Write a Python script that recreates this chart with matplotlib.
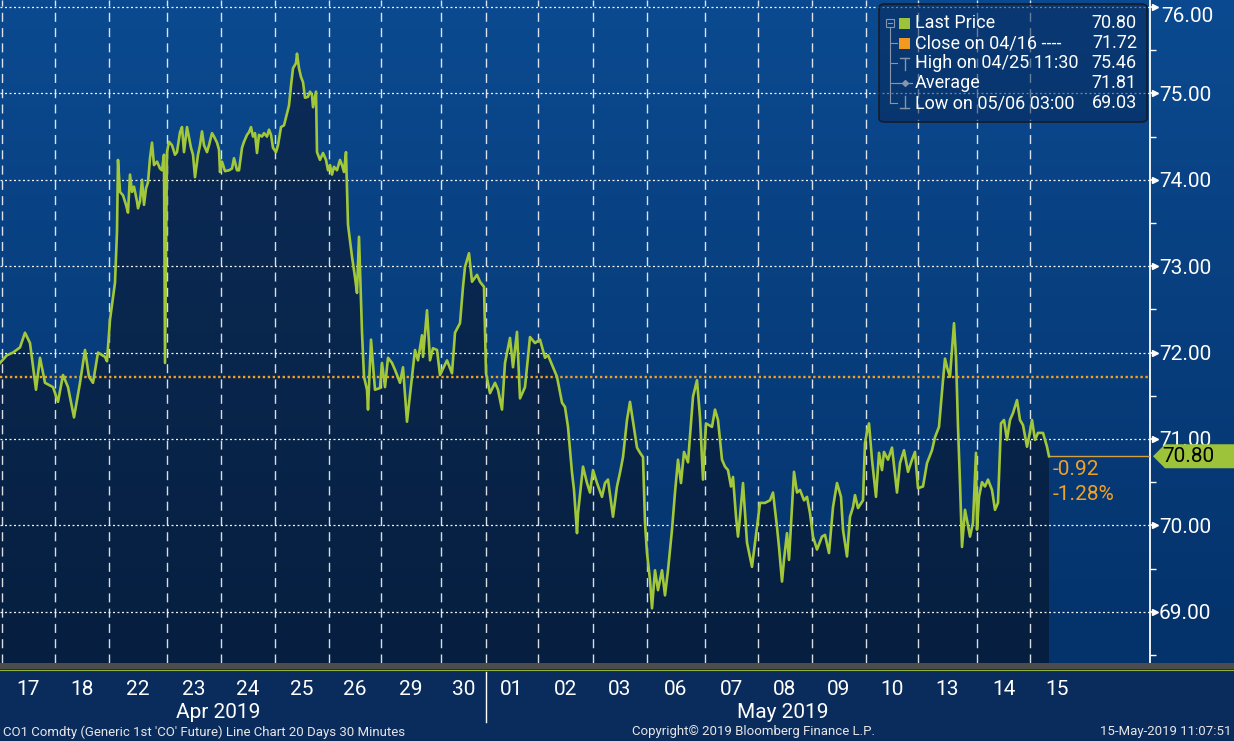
import numpy as np
import matplotlib
matplotlib.use('Agg')
import matplotlib.pyplot as plt
from matplotlib.patches import Polygon, FancyBboxPatch, Rectangle
from matplotlib.lines import Line2D
import matplotlib.transforms as mtrans
from matplotlib.colors import LinearSegmentedColormap

plt.rcParams['font.family'] = ['Roboto', 'DejaVu Sans']

# ---------------- data ----------------
# t: position on the (bar-spaced) time axis, price: CO1 last price
t_a = [0, 7, 13, 20, 25, 30, 36, 40, 45, 53, 58, 63, 68, 74, 80, 85, 89, 93, 98, 105, 107, 110, 115]
p_a = [71.88, 71.97, 72.00, 72.06, 72.23, 72.11, 71.57, 71.94, 71.65, 71.60, 71.43, 71.74, 71.60, 71.25,
       71.65, 72.03, 71.72, 71.65, 72.00, 71.95, 71.90, 72.38, 72.81]

t_b = [117, 118, 120, 123, 126, 128, 130, 132, 134, 137, 138, 140, 142, 144, 146, 148, 150, 152, 154, 157,
       160, 162, 164, 165, 167, 169, 172, 175, 177, 180, 182, 184, 187, 188, 191, 193, 195, 198, 200, 202,
       204, 207, 209, 212, 214, 217, 219, 220, 222, 225, 229, 232, 234, 237, 239, 242, 244, 247, 249, 251,
       253, 255, 257, 259, 262, 264, 267, 269, 271, 273, 276, 278, 281, 284, 287, 289, 291, 293, 296, 297,
       299, 301, 303, 305, 308, 310, 312, 313, 316, 317, 320, 323, 326, 328, 330, 332, 334, 337, 340, 342,
       344, 346, 348]
p_b = [73.40, 74.23, 73.86, 73.82, 73.71, 73.62, 74.06, 73.86, 73.92, 73.75, 73.67, 73.75, 74.00, 73.71,
       73.90, 73.97, 74.25, 74.43, 74.17, 74.21, 74.13, 74.11, 74.29, 71.88, 74.32, 74.44, 74.40, 74.29,
       74.32, 74.55, 74.61, 74.32, 74.61, 74.55, 74.37, 74.29, 74.03, 74.29, 74.40, 74.56, 74.40, 74.32,
       74.40, 74.54, 74.50, 74.43, 74.35, 74.09, 74.21, 74.10, 74.11, 74.13, 74.25, 74.11, 74.11, 74.37,
       74.44, 74.52, 74.55, 74.61, 74.50, 74.54, 74.31, 74.52, 74.50, 74.54, 74.50, 74.58, 74.52, 74.37,
       74.32, 74.40, 74.61, 74.63, 74.77, 74.86, 75.09, 75.29, 75.35, 75.46, 75.29, 75.19, 75.13, 74.95,
       74.96, 75.02, 74.98, 74.84, 75.02, 74.32, 74.23, 74.31, 74.23, 74.11, 74.17, 74.06, 74.15, 74.11,
       74.23, 74.17, 74.09, 74.32, 73.48]

t_c = [352, 355, 357, 359, 362, 364, 367, 368, 371, 375, 380, 382, 385, 388,
       392, 395, 400, 403, 407, 412, 415, 418, 422, 423, 427, 430, 433, 437, 440, 447, 452, 455, 460, 463,
       465, 469, 472, 477, 480, 484, 486, 490, 495, 498, 502, 505, 510, 513, 517, 520, 525, 530, 535, 540,
       545, 548, 553, 557, 562, 565, 568, 572, 574, 577, 578, 583, 587, 590, 593, 597, 602, 605, 608, 613,
       617, 620, 623, 627, 630, 633, 637, 640, 643, 645, 647, 650, 652, 655, 658, 662, 665, 668, 672, 675,
       678, 681, 684, 688, 693, 697, 700, 703, 706, 712, 715, 718, 722, 725, 728, 731, 733, 736, 738, 740,
       743, 747, 752, 755, 760, 765, 770, 773, 777, 779, 782, 784, 787, 789, 794, 797, 800, 804, 807, 810,
       813, 817, 822, 825, 829, 833, 837, 841, 843, 847, 850, 853, 855, 858, 863, 865, 867, 869, 872, 876,
       879, 882, 884, 888, 892, 897, 900, 904, 908, 912, 915, 918, 923, 927, 932, 935, 939, 943, 945, 947,
       950, 952, 954, 956, 958, 960, 962, 965, 967, 970, 973, 976, 977, 979, 982, 985, 988, 992, 995, 998,
       1001, 1004, 1007, 1010, 1013, 1017, 1020, 1023, 1027, 1029, 1032, 1035, 1038, 1043, 1047, 1049]
p_c = [73.11, 72.87, 72.69, 73.34, 72.23, 71.72, 71.57, 71.34, 72.15, 71.57, 71.59, 71.88, 71.60, 71.94,
       71.88, 71.80, 71.65, 71.83, 71.20, 71.72, 72.03, 71.91, 72.20, 71.95, 72.49, 71.91, 72.05, 72.03, 71.74, 71.91, 71.76, 72.23, 72.34, 72.76,
       72.99, 73.15, 72.82, 72.90, 72.82, 72.76, 71.76, 71.53, 71.65, 71.57, 71.34, 71.88, 72.17, 71.83, 72.24, 71.47, 71.60, 72.18, 72.11, 72.15,
       71.94, 71.97, 71.83, 71.72, 71.42, 71.37, 71.14, 70.61, 70.41, 69.91, 70.14, 70.68, 70.49, 70.38, 70.64, 70.49, 70.33, 70.49, 70.53, 70.10,
       70.45, 70.61, 70.79, 71.22, 71.43, 71.20, 70.90, 70.84, 70.79, 70.03, 69.68, 69.37, 69.04, 69.48, 69.25, 69.48, 69.19, 69.48, 69.95, 70.38,
       70.76, 70.49, 70.85, 70.73, 71.49, 71.68, 71.25, 70.53, 71.18, 71.14, 71.34, 71.22, 70.76, 70.68, 70.64, 70.45, 70.56, 70.10, 69.87, 70.10,
       70.49, 69.80, 69.52, 69.80, 70.26, 70.26, 70.29, 70.38, 69.98, 69.75, 69.35, 69.60, 69.91, 69.60, 70.62, 70.38, 70.41, 70.29, 70.33, 70.14,
       69.87, 69.72, 69.87, 69.89, 69.68, 70.21, 70.49, 70.33, 69.95, 69.64, 70.10, 70.21, 70.35, 70.20, 70.29, 70.95, 71.08, 71.18, 70.76, 70.33,
       70.84, 70.64, 70.85, 70.76, 70.90, 70.38, 70.72, 70.87, 70.62, 70.76, 70.85, 70.43, 70.45, 70.72, 70.87, 71.02, 71.14, 71.68, 71.93, 71.83,
       71.72, 72.03, 72.34, 71.95, 71.14, 70.49, 69.75, 70.18, 70.06, 69.87, 70.03, 70.84, 69.95, 70.33, 70.50, 70.45, 70.53, 70.41, 70.18, 70.26,
       71.18, 71.22, 70.99, 71.22, 71.30, 71.45, 71.22, 71.16, 70.91, 71.02, 71.22, 70.99, 71.07, 71.07, 70.91, 70.80]

t = t_a + t_b + t_c
price = p_a + p_b + p_c

day_starts = [2, 55, 109, 167, 221, 275, 329, 381, 441, 486, 538, 593, 647, 705, 758, 812, 866, 918, 977, 1030]
day_labels = ['17', '18', '22', '23', '24', '25', '26', '29', '30', '01', '02', '03',
              '06', '07', '08', '09', '10', '13', '14', '15']
month_labels = ['Apr 2019', 'May 2019']
month_label_pos = [218, 783]
month_break = 486
t_end = 1150

y_ticks = [69, 70, 71, 72, 73, 74, 75, 76]
y_minor = [68.5, 69.5, 70.5, 71.5, 72.5, 73.5, 74.5, 75.5]
y_lim = (68.407, 76.081)

close_prev = 71.72
last_price = 70.80
net_change = -0.92
pct_change = -1.28

legend_labels = ['Last Price', 'Close on 04/16 ----', 'High on 04/25 11:30', 'Average', 'Low on 05/06 03:00']
legend_values = [70.80, 71.72, 75.46, 71.81, 69.03]

footer_left = "CO1 Comdty (Generic 1st 'CO' Future) Line Chart 20 Days 30 Minutes"
footer_mid = "Copyright\u00a9 2019 Bloomberg Finance L.P."
footer_right = "15-May-2019 11:07:51"

# ---------------- styling ----------------
W, H = 1234, 741
LINE_C = '#a2c83a'
ORANGE = '#f2a024'
TXT = 'white'

def fx(x):
    return x / W

def fy(y):
    return 1 - y / H

fig = plt.figure(figsize=(W / 100, H / 100), dpi=100)
fig.patch.set_facecolor('#0a2c5c')

plot_bot = 663
# background gradient band (plot + right axis area)
bg = fig.add_axes([0, fy(plot_bot), 1, plot_bot / H])
bg.axis('off')
grad = np.linspace(0, 1, 256).reshape(-1, 1)
bg.imshow(grad, aspect='auto', cmap=LinearSegmentedColormap.from_list('bg', ['#0b4a90', '#04326a']),
          extent=[0, 1, 0, 1])
bg.set_xlim(0, 1)
bg.set_ylim(0, 1)

ax = fig.add_axes([0, fy(plot_bot), t_end / W, plot_bot / H])
ax.patch.set_alpha(0)

# filled area with gradient
ymin, ymax = y_lim
poly = Polygon(np.column_stack([[t[0]] + t + [t[-1]], [ymin] + price + [ymin]]),
               closed=True, facecolor='none', edgecolor='none')
ax.add_patch(poly)
im = ax.imshow(grad, aspect='auto', cmap=LinearSegmentedColormap.from_list('fl', ['#0c2d5a', '#061f40']),
               extent=[0, t_end, ymin, ymax], zorder=1)
im.set_clip_path(poly)

ax.set_xlim(0, t_end)
ax.set_ylim(ymin, ymax)

# grid
for yv in y_ticks:
    ax.axhline(yv, color='white', lw=0.9, ls=(0, (1.6, 2.0)), zorder=2, alpha=0.95)
for d in day_starts:
    ax.axvline(d, color='white', lw=1.0, ls=(0, (6.5, 4.5)), zorder=2, alpha=0.85)

# previous close dotted line
ax.axhline(close_prev, color=ORANGE, lw=1.7, ls=(0, (1.0, 1.1)), zorder=3)

# price line
ax.plot(t, price, color=LINE_C, lw=1.9, zorder=4, solid_joinstyle='round')
ax.hlines(last_price, t[-1], t_end, color='#d9a040', lw=1.0, zorder=3)

# change annotations
ax.annotate(f'{net_change:.2f}', (t[-1], last_price), xytext=(4, -13), textcoords='offset pixels',
            color=ORANGE, fontsize=15, va='center', ha='left', zorder=5)
ax.annotate(f'{pct_change:.2f}%', (t[-1], last_price), xytext=(4, -38), textcoords='offset pixels',
            color=ORANGE, fontsize=15, va='center', ha='left', zorder=5)

# axes / ticks
for s in ['left', 'top', 'bottom']:
    ax.spines[s].set_visible(False)
ax.spines['right'].set_color('white')
ax.spines['right'].set_linewidth(1.3)
ax.yaxis.tick_right()
ax.set_yticks(y_ticks)
ax.set_yticklabels(['' if v == 76 else f'{v:.2f}' for v in y_ticks])
ax.set_yticks(y_minor, minor=True)
ax.tick_params(axis='y', which='major', colors='white', labelcolor=TXT, labelsize=15,
               length=5, width=1.2, pad=1.5, direction='out')
ax.tick_params(axis='y', which='minor', colors='white', length=4, width=1.0, direction='out')
tri_tr = mtrans.blended_transform_factory(ax.transAxes, ax.transData)
ax.plot([1.0 + 5 / t_end] * len(y_ticks), y_ticks, ls='none', marker='>', ms=5, color='white',
        transform=tri_tr, clip_on=False, zorder=6)
ax.text(1.0 + 11 / t_end, 76, '76.00', transform=tri_tr, color=TXT, fontsize=15, va='top', ha='left')

label_pos = [(day_starts[i] + day_starts[i + 1]) / 2 for i in range(len(day_starts) - 1)]
label_pos.append(day_starts[-1] + 27)
ax.set_xticks(label_pos)
ax.set_xticklabels(day_labels)
ax.tick_params(axis='x', length=0, pad=12, labelsize=15, labelcolor=TXT)

# tag for last price
tag_tr = mtrans.blended_transform_factory(fig.transFigure, ax.transData)
hh = 12 / 86.4
tag = Polygon([[fx(1153), last_price], [fx(1165), last_price + hh], [1.0, last_price + hh],
               [1.0, last_price - hh], [fx(1165), last_price - hh]], closed=True,
              facecolor='#9cc33a', edgecolor='none', transform=tag_tr, zorder=10)
fig.add_artist(tag)
fig.text(fx(1162), last_price, f'{last_price:.2f}', transform=tag_tr, color='black', fontsize=15,
         va='center', ha='left', zorder=11)

# slider band under plot
fig.add_artist(Rectangle((0, fy(669)), 1, 6 / H, transform=fig.transFigure, facecolor='#4c4c4c',
                         edgecolor='none', zorder=3))
fig.add_artist(Line2D([0, 1], [fy(669.8)] * 2, transform=fig.transFigure, color='#8db33a', lw=0.8, zorder=4))

# month separator and month labels
mtr = mtrans.blended_transform_factory(ax.transData, fig.transFigure)
fig.add_artist(Line2D([month_break, month_break], [fy(672), fy(722)], transform=mtr, color='white', lw=1.0))
for lab, pos in zip(month_labels, month_label_pos):
    fig.text(pos, fy(712), lab, transform=mtr, color=TXT, fontsize=15, ha='center', va='center')

# footer
fig.text(fx(3), fy(732), footer_left, color='#e6e6e6', fontsize=9.5, ha='left', va='center')
fig.text(fx(754), fy(732), footer_mid, color='#e6e6e6', fontsize=9.5, ha='center', va='center')
fig.text(fx(1231), fy(732), footer_right, color='#e6e6e6', fontsize=9.5, ha='right', va='center')

# legend box
box = FancyBboxPatch((fx(879), fy(122)), fx(1147) - fx(879), fy(4) - fy(122),
                     boxstyle='round,pad=0,rounding_size=0.005', transform=fig.transFigure,
                     facecolor='#08295a', alpha=0.55, edgecolor='none', zorder=8)
fig.add_artist(box)
box2 = FancyBboxPatch((fx(879), fy(122)), fx(1147) - fx(879), fy(4) - fy(122),
                      boxstyle='round,pad=0,rounding_size=0.005', transform=fig.transFigure,
                      facecolor='none', edgecolor='#151c28', lw=1.2, zorder=9)
fig.add_artist(box2)

row_y = [23, 43, 63, 83, 103]
GRAY = '#8595aa'
def fline(xs, ys, **kw):
    fig.add_artist(Line2D([fx(x) for x in xs], [fy(y) for y in ys], transform=fig.transFigure,
                          zorder=10, **kw))

# tree lines
fline([890, 890], [28, 103], color=GRAY, lw=0.8)
for ry in row_y[1:]:
    fline([890, 897], [ry, ry], color=GRAY, lw=0.8)
fig.add_artist(Rectangle((fx(886), fy(27)), 8 / W, 8 / H, transform=fig.transFigure,
                         facecolor='none', edgecolor=GRAY, lw=0.8, zorder=10))
fline([888, 892], [23, 23], color=GRAY, lw=0.8)
# colour squares
fig.add_artist(Rectangle((fx(899), fy(29)), 11 / W, 11 / H, transform=fig.transFigure,
                         facecolor='#9cc33a', edgecolor='none', zorder=10))
fig.add_artist(Rectangle((fx(899), fy(49)), 11 / W, 11 / H, transform=fig.transFigure,
                         facecolor='#f39a1e', edgecolor='none', zorder=10))
# high icon
fline([900, 909], [58, 58], color=GRAY, lw=1.0)
fline([904.5, 904.5], [58, 70], color=GRAY, lw=1.0)
# average icon
fline([897, 912], [83, 83], color=GRAY, lw=0.9)
fig.add_artist(Line2D([fx(904.5)], [fy(83)], transform=fig.transFigure, marker='D', ms=3,
                      color=GRAY, zorder=10))
# low icon
fline([904.5, 904.5], [96, 108], color=GRAY, lw=1.0)
fline([900, 909], [108, 108], color=GRAY, lw=1.0)

for lab, val, ry in zip(legend_labels, legend_values, row_y):
    fig.text(fx(915), fy(ry), lab, color=TXT, fontsize=13, ha='left', va='center', zorder=11)
    fig.text(fx(1137), fy(ry), f'{val:.2f}', color=TXT, fontsize=13, ha='right', va='center', zorder=11)

fig.savefig('out.png', dpi=100, facecolor=fig.get_facecolor())
